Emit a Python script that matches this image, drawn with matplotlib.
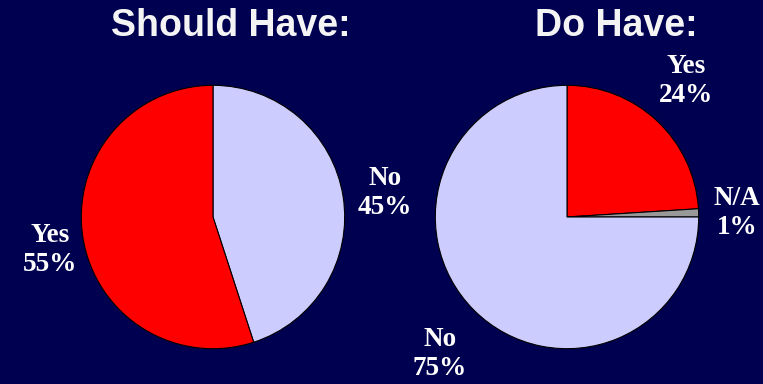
import matplotlib
matplotlib.use("Agg")
import matplotlib.pyplot as plt

# data
should_labels = ["No", "Yes"]
should_values = [45, 55]
should_colors = ["#ccccff", "#ff0000"]

do_labels = ["Yes", "N/A", "No"]
do_values = [24, 1, 75]
do_colors = ["#ff0000", "#999999", "#ccccff"]

W, H = 763, 384
bg = "#000050"

fig = plt.figure(figsize=(W / 100, H / 100), dpi=100)
fig.patch.set_facecolor(bg)


def pie_axes(cx, cy, r):
    # cx, cy, r in pixels (y from top)
    ax = fig.add_axes([(cx - r) / W, (H - cy - r) / H, 2 * r / W, 2 * r / H])
    ax.set_facecolor(bg)
    ax.axis("off")
    return ax


def draw_pie(ax, values, colors):
    ax.pie(values, colors=colors, startangle=90, counterclock=False,
           radius=1, wedgeprops=dict(edgecolor="black", linewidth=0.8))
    ax.set_xlim(-1.01, 1.01)
    ax.set_ylim(-1.01, 1.01)


ax1 = pie_axes(213, 217, 133)
draw_pie(ax1, should_values, should_colors)
ax2 = pie_axes(567, 217, 133)
draw_pie(ax2, do_values, do_colors)

title_kw = dict(color="#f4f4f4", fontsize=27, fontweight="bold",
                family="Liberation Sans", ha="center", va="center")
fig.text(231 / W, 1 - 26 / H, "Should Have:", **title_kw)
fig.text(616 / W, 1 - 26 / H, "Do Have:", **title_kw)

lab_kw = dict(color="white", fontsize=19.5, fontweight="bold",
              family="Liberation Serif", ha="center", va="center",
              linespacing=1.25)


def put(px, py, name, val):
    fig.text(px / W, 1 - py / H, f"{name}\n{val}%", **lab_kw)


put(385, 193, should_labels[0], should_values[0])
put(50, 250, should_labels[1], should_values[1])
put(686, 81, do_labels[0], do_values[0])
put(737, 213, do_labels[1], do_values[1])
put(440, 354, do_labels[2], do_values[2])

fig.savefig("out.png", dpi=100, facecolor=bg)
